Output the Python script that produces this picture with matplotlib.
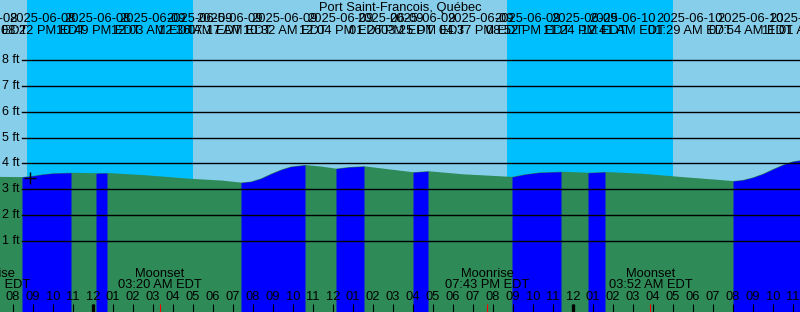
import numpy as np
import matplotlib
matplotlib.use("Agg")
import matplotlib.pyplot as plt

plt.rcParams["font.family"] = ["Liberation Sans", "DejaVu Sans"]

station = "Port Saint-Francois, Québec"

# time axis: hours counted from 2025-06-08 00:00 EDT
t_start, t_end = 19.35, 59.35

# tide curve samples (hours, feet)
curve_t = [19.35, 20.45, 21.0, 21.5, 22.0, 22.9, 24.15, 24.7, 26.5, 28.0, 29.0,
           30.4, 31.4, 31.9, 32.4, 32.9, 33.4, 33.9, 34.6, 35.4, 36.15, 36.8,
           37.55, 38.5, 40.0, 40.75, 42.5, 44.95, 45.6, 46.3, 47.4, 48.75, 49.6,
           51.5, 53.5, 56.0, 56.5, 57.0, 57.5, 58.0, 58.5, 59.0, 59.35]
curve_h = [3.48, 3.47, 3.52, 3.58, 3.62, 3.64, 3.62, 3.63, 3.55, 3.46, 3.40,
           3.34, 3.26, 3.30, 3.42, 3.60, 3.76, 3.88, 3.94, 3.88, 3.80, 3.86,
           3.89, 3.80, 3.66, 3.70, 3.58, 3.48, 3.58, 3.65, 3.68, 3.64, 3.67,
           3.60, 3.47, 3.32, 3.36, 3.46, 3.60, 3.78, 3.95, 4.08, 4.12]

# rising (flood) stretches: low -> high
flood = [(20.45, 22.9), (24.15, 24.7), (31.4, 34.6), (36.15, 37.55),
         (40.0, 40.75), (44.95, 47.4), (48.75, 49.6), (56.0, 59.35)]

# night (sunset -> sunrise)
nights = [(20.7, 29.0), (44.7, 53.0)]

# tide event labels across the top
event_x = [18.6, 21.5, 24.25, 27.0, 29.35, 30.85, 33.6, 36.4, 38.9, 40.5,
           43.4, 45.75, 48.6, 50.5, 53.85, 56.9, 59.5]
event_date = ["2025-06-08", "2025-06-08", "2025-06-08", "2025-06-09", "2025-06-09",
              "2025-06-09", "2025-06-09", "2025-06-09", "2025-06-09", "2025-06-09",
              "2025-06-09", "2025-06-09", "2025-06-09", "2025-06-10", "2025-06-10",
              "2025-06-10", "2025-06-10"]
event_time = ["06:41 PM EDT", "08:22 PM EDT", "10:49 PM EDT", "12:03 AM EDT",
              "12:36 AM EDT", "07:17 AM EDT", "10:32 AM EDT", "12:04 PM EDT",
              "01:26 PM EDT", "03:25 PM EDT", "04:37 PM EDT", "08:52 PM EDT",
              "11:24 PM EDT", "12:41 AM EDT", "01:29 AM EDT", "07:54 AM EDT",
              "11:01 AM EDT"]

# moon events along the bottom
moon_t = [18.75, 27.333, 43.717, 51.867]
moon_name = ["Moonrise", "Moonset", "Moonrise", "Moonset"]
moon_time = ["06:45 PM EDT", "03:20 AM EDT", "07:43 PM EDT", "03:52 AM EDT"]

hour_ticks = list(range(20, 60))
hour_labels = ["08", "09", "10", "11", "12", "01", "02", "03", "04", "05", "06", "07",
               "08", "09", "10", "11", "12", "01", "02", "03", "04", "05", "06", "07",
               "08", "09", "10", "11", "12", "01", "02", "03", "04", "05", "06", "07",
               "08", "09", "10", "11"]
midnights = [24, 48]

levels = [1, 2, 3, 4, 5, 6, 7, 8]
now_t, now_h = 20.85, 3.44

y_bot, y_top = -1.745, 10.32

fig = plt.figure(figsize=(8, 3.12), dpi=100)
ax = fig.add_axes([0, 0, 1, 1])
ax.set_xlim(t_start, t_end)
ax.set_ylim(y_bot, y_top)
ax.axis("off")
ax.add_patch(plt.Rectangle((0, 0), 1, 1, transform=ax.transAxes, color="#87CEEB", zorder=0))

for a, b in nights:
    ax.axvspan(a, b, color="#00BFFF", lw=0, zorder=1)

ct = np.array(curve_t)
ch = np.array(curve_h)
ax.fill_between(ct, ch, y_bot, color="#2E8B57", lw=0, zorder=2)
for a, b in flood:
    m = (ct >= a) & (ct <= b)
    ax.fill_between(ct[m], ch[m], y_bot, color="#0000FF", lw=0, zorder=3)

x0 = t_start + 22 / 20
for lv in levels:
    ax.plot([x0, t_end], [lv, lv], color="black", lw=1.0, zorder=4)
    ax.text(x0 - 0.1, lv, f"{lv} ft", ha="right", va="center", fontsize=9, zorder=5)

ax.plot(now_t, now_h, marker="+", color="black", ms=9, mew=1.0, zorder=6)

tr = ax.get_xaxis_transform()
ax.text(0.5, 1 - 8 / 312, station, transform=ax.transAxes, ha="center", va="center", fontsize=9.3)
for x, d, s in zip(event_x, event_date, event_time):
    ax.text(x, 1 - 18.5 / 312, d, transform=tr, ha="center", va="center", fontsize=9.3)
    ax.text(x, 1 - 30.5 / 312, s, transform=tr, ha="center", va="center", fontsize=9.3)

for x, lab in zip(hour_ticks, hour_labels):
    ax.text(x, 15 / 312, lab, transform=tr, ha="center", va="center", fontsize=9.3, zorder=6)
ax.vlines(hour_ticks, 0, 8 / 312, transform=tr, color="black", lw=0.8, zorder=6)
ax.vlines(midnights, 0, 8 / 312, transform=tr, color="black", lw=2.4, zorder=6)

for x, n, s in zip(moon_t, moon_name, moon_time):
    ax.text(x, 1 - 274 / 312, n, transform=tr, ha="center", va="center", fontsize=9.3, zorder=6)
    ax.text(x, 1 - 285.5 / 312, s, transform=tr, ha="center", va="center", fontsize=9.3, zorder=6)
    ax.vlines(x, 0, 8 / 312, transform=tr, color="red", lw=0.8, zorder=7)

fig.savefig("out.png", dpi=100)
